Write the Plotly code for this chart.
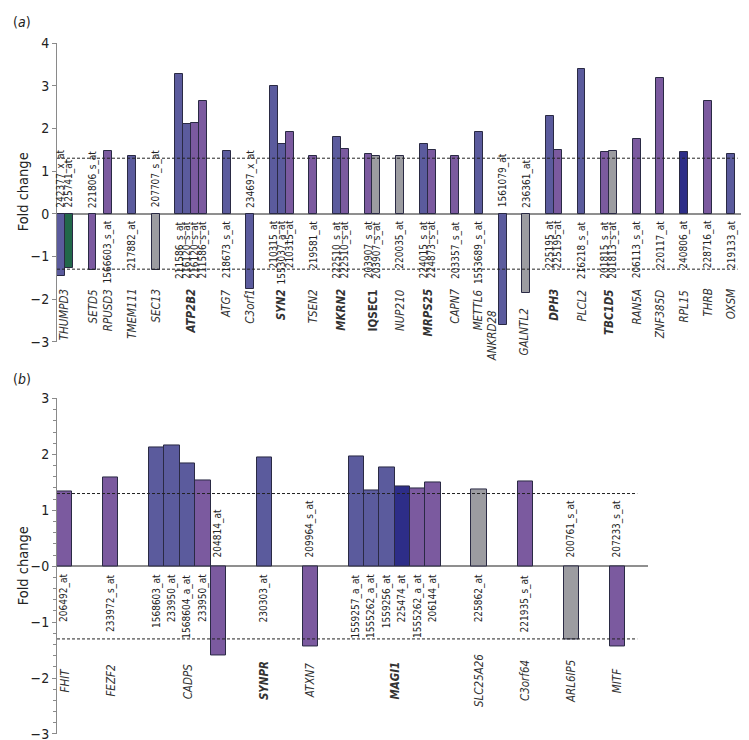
import plotly.graph_objects as go

# ---------------- DATA ----------------
genes_a = ["THUMPD3", "SETD5", "RPUSD3", "TMEM111", "SEC13", "ATP2B2", "ATG7", "C3orf1",
           "SYN2", "TSEN2", "MKRN2", "IQSEC1", "NUP210", "MRPS25", "CAPN7", "METTL6",
           "ANKRD28", "GALNTL2", "DPH3", "PLCL2", "TBC1D5", "RAN5A", "ZNF385D", "RPL15",
           "THRB", "OXSM"]
probes_per_gene_a = [2, 1, 1, 1, 1, 4, 1, 1, 3, 1, 2, 2, 1, 2, 1, 1, 1, 1, 2, 1, 2, 1, 1, 1, 1, 1]
probes_a = ["242377_x_at", "225741_at", "221806_s_at", "1566603_s_at", "217882_at",
            "207707_s_at", "211586_s_at", "216120_s_at", "216120_s_at", "211586_s_at",
            "218673_s_at", "234697_x_at", "210315_at", "1553037_a_at", "210315_at",
            "219581_at", "222510_s_at", "222510_s_at", "203907_s_at", "203907_s_at",
            "220035_at", "224015_s_at", "224873_s_at", "203357_s_at", "1553689_s_at",
            "1561079_at", "236361_at", "225195_at", "225195_at", "216218_s_at",
            "201815_s_at", "201813_s_at", "206113_s_at", "220117_at", "240806_at",
            "228716_at", "219133_at"]
fold_a = [-1.47, -1.27, -1.33, 1.47, 1.36, -1.32, 3.28, 2.10, 2.12, 2.65, 1.46, -1.77,
          3.00, 1.63, 1.92, 1.36, 1.79, 1.52, 1.41, 1.35, 1.35, 1.63, 1.49, 1.35, 1.92,
          -2.62, -1.86, 2.28, 1.50, 3.40, 1.44, 1.48, 1.75, 3.19, 1.45, 2.63, 1.39]
group_a = ["B", "E", "P", "P", "B", "G", "B", "B", "P", "P", "B", "B", "B", "B", "P", "P",
           "B", "P", "P", "G", "G", "B", "P", "P", "B", "B", "G", "B", "P", "B", "P", "G",
           "P", "P", "N", "P", "B"]

genes_b = ["FHIT", "FEZF2", "CADPS", "SYNPR", "ATXN7", "MAGI1", "SLC25A26", "C3orf64",
           "ARL6IP5", "MITF"]
probes_per_gene_b = [1, 1, 5, 1, 1, 6, 1, 1, 1, 1]
probes_b = ["206492_at", "233972_s_at", "1568603_at", "233950_at", "1568604_a_at",
            "233950_at", "204814_at", "230303_at", "209964_s_at", "1559257_a_at",
            "1555262_a_at", "1559256_at", "225474_at", "1555262_a_at", "206144_at",
            "225862_at", "221935_s_at", "200761_s_at", "207233_s_at"]
fold_b = [1.34, 1.58, 2.12, 2.16, 1.83, 1.53, -1.60, 1.95, -1.43, 1.96, 1.36, 1.76,
          1.42, 1.39, 1.50, 1.37, 1.51, -1.31, -1.44]
group_b = ["P", "P", "B", "B", "B", "P", "P", "B", "P", "B", "B", "B", "N", "P", "P",
           "G", "P", "G", "P"]

threshold = 1.3
yticks_a = [-3, -2, -1, 0, 1, 2, 3, 4]
yticks_b = [-3, -2, -1, 0, 1, 2, 3]
yticktext_b = ["\u22123", "\u22122", "\u22121", "\u22120", "1", "2", "3"]

# ---------------- STYLE ----------------
COLORS = {"B": "#5b5b9d", "P": "#7b5a9f", "G": "#9c9ca1", "N": "#2d2d88", "E": "#22684a"}
OUTLINE = "#2a2a44"
FONT = "Liberation Sans Narrow, Arial Narrow, DejaVu Sans Condensed, Liberation Sans, Arial, sans-serif"
BOLD = {"ATP2B2", "SYN2", "MKRN2", "IQSEC1", "MRPS25", "DPH3", "TBC1D5", "SYNPR", "MAGI1"}
UPRIGHT = {"IQSEC1"}
GAP = 2
SMALL_GAP_AFTER = {"SETD5"}
# gene-label placement tweaks (panel a): (y_top, x_offset in slots)
LABEL_TWEAK_A = {"ANKRD28": (-2.23, -1.35), "GALNTL2": (-2.19, -0.3)}


def layout_slots(genes, counts, small_gap=()):
    xs, centers, pos = [], [], 0
    for g, n in zip(genes, counts):
        start = pos
        for _ in range(n):
            xs.append(pos)
            pos += 1
        centers.append((start + pos - 1) / 2)
        pos += 1 if g in small_gap else GAP
    return xs, centers


xa, ca = layout_slots(genes_a, probes_per_gene_a, SMALL_GAP_AFTER)
xb, cb = layout_slots(genes_b, probes_per_gene_b)

W, H = 749, 740
ML, MR, MT, MB = 49, 6, 35, 11
PW, PH = W - ML - MR, H - MT - MB
range_a = [-0.5, xa[-1] + 2.5]
range_b = [-0.5, xb[-1] + 2.0]
dom_b = (range_b[1] - range_b[0]) * 15.35 / PW


def py(px):  # pixel y (from top) to paper fraction
    return (H - MB - px) / PH


fig = go.Figure()
fig.add_trace(go.Bar(x=xa, y=fold_a, width=1,
                     marker=dict(color=[COLORS[c] for c in group_a],
                                 line=dict(color=OUTLINE, width=1)),
                     xaxis="x", yaxis="y", showlegend=False, hoverinfo="y"))
fig.add_trace(go.Bar(x=xb, y=fold_b, width=1,
                     marker=dict(color=[COLORS[c] for c in group_b],
                                 line=dict(color=OUTLINE, width=1)),
                     xaxis="x2", yaxis="y2", showlegend=False, hoverinfo="y"))

ann = []
shapes = []


def gene_text(g):
    t = g
    if g not in UPRIGHT:
        t = "<i>" + t + "</i>"
    if g in BOLD:
        t = "<b>" + t + "</b>"
    return t


def add_probe_labels(xs, vals, probes, xr, yr, off_pos, off_neg):
    for x, v, p in zip(xs, vals, probes):
        if v >= 0:
            ann.append(dict(x=x, y=0, xref=xr, yref=yr, text=p, textangle=-90,
                            showarrow=False, xanchor="center", yanchor="top",
                            yshift=-off_pos, font=dict(size=10, color="#222", family=FONT),
                            borderpad=0))
        else:
            ann.append(dict(x=x, y=0, xref=xr, yref=yr, text=p, textangle=-90,
                            showarrow=False, xanchor="center", yanchor="bottom",
                            yshift=off_neg, font=dict(size=10, color="#222", family=FONT),
                            borderpad=0))


add_probe_labels(xa, fold_a, probes_a, "x", "y", 6, 5)
add_probe_labels(xb, fold_b, probes_b, "x2", "y2", 7, 8)

for g, c in zip(genes_a, ca):
    yt, dx = LABEL_TWEAK_A.get(g, (-1.74, 0))
    ann.append(dict(x=c + dx, y=yt, xref="x", yref="y", text=gene_text(g), textangle=-90,
                    showarrow=False, xanchor="center", yanchor="top", borderpad=0,
                    font=dict(size=11.5, color="#333", family=FONT)))
for g, c in zip(genes_b, cb):
    ann.append(dict(x=c, y=-2.05, xref="x2", yref="y2", text=gene_text(g), textangle=-90,
                    showarrow=False, xanchor="center", yanchor="middle", borderpad=0,
                    font=dict(size=11.5, color="#333", family=FONT)))

# axis titles & panel letters
for yr in ["y domain", "y2 domain"]:
    ann.append(dict(x=(15 - ML) / PW, y=0.5, xref="paper", yref=yr, text="Fold change",
                    textangle=-90, showarrow=False, xanchor="center", yanchor="middle",
                    font=dict(size=14.5, color="#222", family=FONT)))
ann.append(dict(x=(3 - ML) / PW, y=py(4), xref="paper", yref="paper", text="(<i>a</i>)",
                showarrow=False, xanchor="left", yanchor="top",
                font=dict(size=14, color="#222", family=FONT)))
ann.append(dict(x=(3 - ML) / PW, y=py(362), xref="paper", yref="paper", text="(<i>b</i>)",
                showarrow=False, xanchor="left", yanchor="top",
                font=dict(size=14, color="#222", family=FONT)))

# threshold lines
for xr, yr, xend in [("x", "y", xa[-1] + 0.8), ("x2", "y2", xb[-1] + 1.3)]:
    for s in (threshold, -threshold):
        shapes.append(dict(type="line", xref=xr, yref=yr, x0=-0.5, x1=xend, y0=s, y1=s,
                           line=dict(color="#222", width=1, dash="3px,2px")))

yax_common = dict(showgrid=False, zeroline=True, zerolinecolor="#8f8f8f", zerolinewidth=1.6,
                  showline=True, linecolor="#8a8a8a", linewidth=1, ticks="outside",
                  ticklen=4, tickcolor="#8a8a8a", tickwidth=1,
                  tickfont=dict(size=14, color="#222", family=FONT), fixedrange=True)

fig.update_layout(
    width=W, height=H, margin=dict(l=ML, r=MR, t=MT, b=MB),
    paper_bgcolor="white", plot_bgcolor="white",
    bargap=0, barmode="overlay",
    xaxis=dict(domain=[0, 1], range=range_a, visible=False, anchor="y", fixedrange=True),
    yaxis=dict(domain=[py(335), py(35)], range=[-3, 4], tickvals=yticks_a,
               anchor="x", **yax_common),
    xaxis2=dict(domain=[0, dom_b], range=range_b, visible=False, anchor="y2", fixedrange=True),
    yaxis2=dict(domain=[py(729), py(392)], range=[-3, 3], tickvals=yticks_b,
                ticktext=yticktext_b, anchor="x2",
                minor=dict(dtick=0.2, ticks="outside", ticklen=3, tickcolor="#8a8a8a"),
                **yax_common),
    annotations=ann, shapes=shapes, showlegend=False,
)

fig.write_html("out.html")
